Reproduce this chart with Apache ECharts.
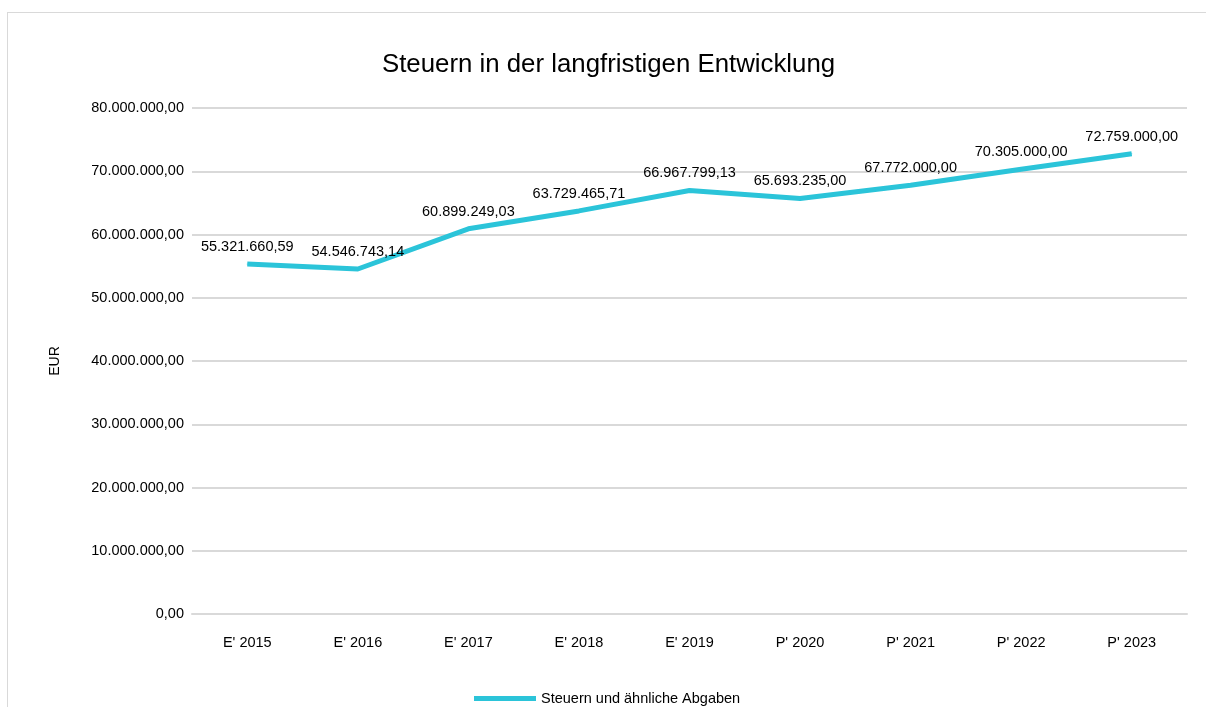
<!DOCTYPE html>
<html>
<head>
<meta charset="utf-8">
<script src="https://cdn.jsdelivr.net/npm/echarts@6/dist/echarts.min.js"></script>
<style>
  html, body { margin: 0; padding: 0; background: #fff; }
  #frame { position: absolute; left: 7px; top: 12px; width: 1220px; height: 720px; border: 1px solid #d9d9d9; }
  #main { position: absolute; left: 0; top: 0; width: 1206px; height: 707px; }
</style>
</head>
<body>
<div id="frame"></div>
<div id="main"></div>
<script>
// Kategorien und Werte
var categories = ["E' 2015", "E' 2016", "E' 2017", "E' 2018", "E' 2019", "P' 2020", "P' 2021", "P' 2022", "P' 2023"];
var steuern = [55321660.59, 54546743.14, 60899249.03, 63729465.71, 66967799.13, 65693235.00, 67772000.00, 70305000.00, 72759000.00];
var seriesName = 'Steuern und ähnliche Abgaben';

// deutsches Zahlenformat 1.234.567,89
function fmt(v) {
  var parts = Number(v).toFixed(2).split('.');
  parts[0] = parts[0].replace(/\B(?=(\d{3})+(?!\d))/g, '.');
  return parts[0] + ',' + parts[1];
}

var myChart = echarts.init(document.getElementById('main'));
var font = 'Liberation Sans, Arial, sans-serif';

var option = {
  backgroundColor: 'transparent',
  textStyle: { fontFamily: font },
  title: {
    text: 'Steuern in der langfristigen Entwicklung',
    left: 377,
    top: 47,
    textStyle: { fontFamily: font, fontSize: 25.8, fontWeight: 'normal', color: '#000' }
  },
  legend: {
    data: [seriesName],
    top: 686,
    left: 469,
    itemWidth: 62,
    itemHeight: 5,
    icon: 'rect',
    itemGap: 6,
    textStyle: { fontFamily: font, fontSize: 14.5, color: '#000' }
  },
  grid: { left: 192, right: 19, top: 108, bottom: 93, containLabel: false },
  xAxis: {
    type: 'category',
    data: categories,
    boundaryGap: true,
    axisLine: { show: true, lineStyle: { color: '#d9d9d9', width: 2 } },
    axisTick: { show: false },
    axisLabel: { color: '#000', fontSize: 14.5, fontFamily: font, margin: 21 }
  },
  yAxis: {
    type: 'value',
    min: 0,
    max: 80000000,
    interval: 10000000,
    name: 'EUR',
    nameLocation: 'middle',
    nameGap: 130,
    nameRotate: 90,
    nameTextStyle: { color: '#000', fontSize: 14, fontFamily: font },
    axisLine: { show: false },
    axisTick: { show: false },
    axisLabel: { color: '#000', fontSize: 14.5, fontFamily: font, margin: 8, formatter: fmt },
    splitLine: { lineStyle: { color: '#d9d9d9', width: 2 } }
  },
  series: [
    {
      name: seriesName,
      type: 'line',
      data: steuern,
      symbol: 'circle',
      symbolSize: 1,
      showSymbol: true,
      color: '#2bc4d9',
      itemStyle: { color: '#2bc4d9' },
      lineStyle: { width: 5, color: '#2bc4d9' },
      labelLayout: { hideOverlap: false },
      label: {
        show: true,
        position: 'top',
        distance: 9,
        color: '#000',
        fontSize: 14.5,
        fontFamily: font,
        formatter: function (p) { return fmt(p.value); }
      }
    }
  ]
};

myChart.setOption(option);
</script>
</body>
</html>
